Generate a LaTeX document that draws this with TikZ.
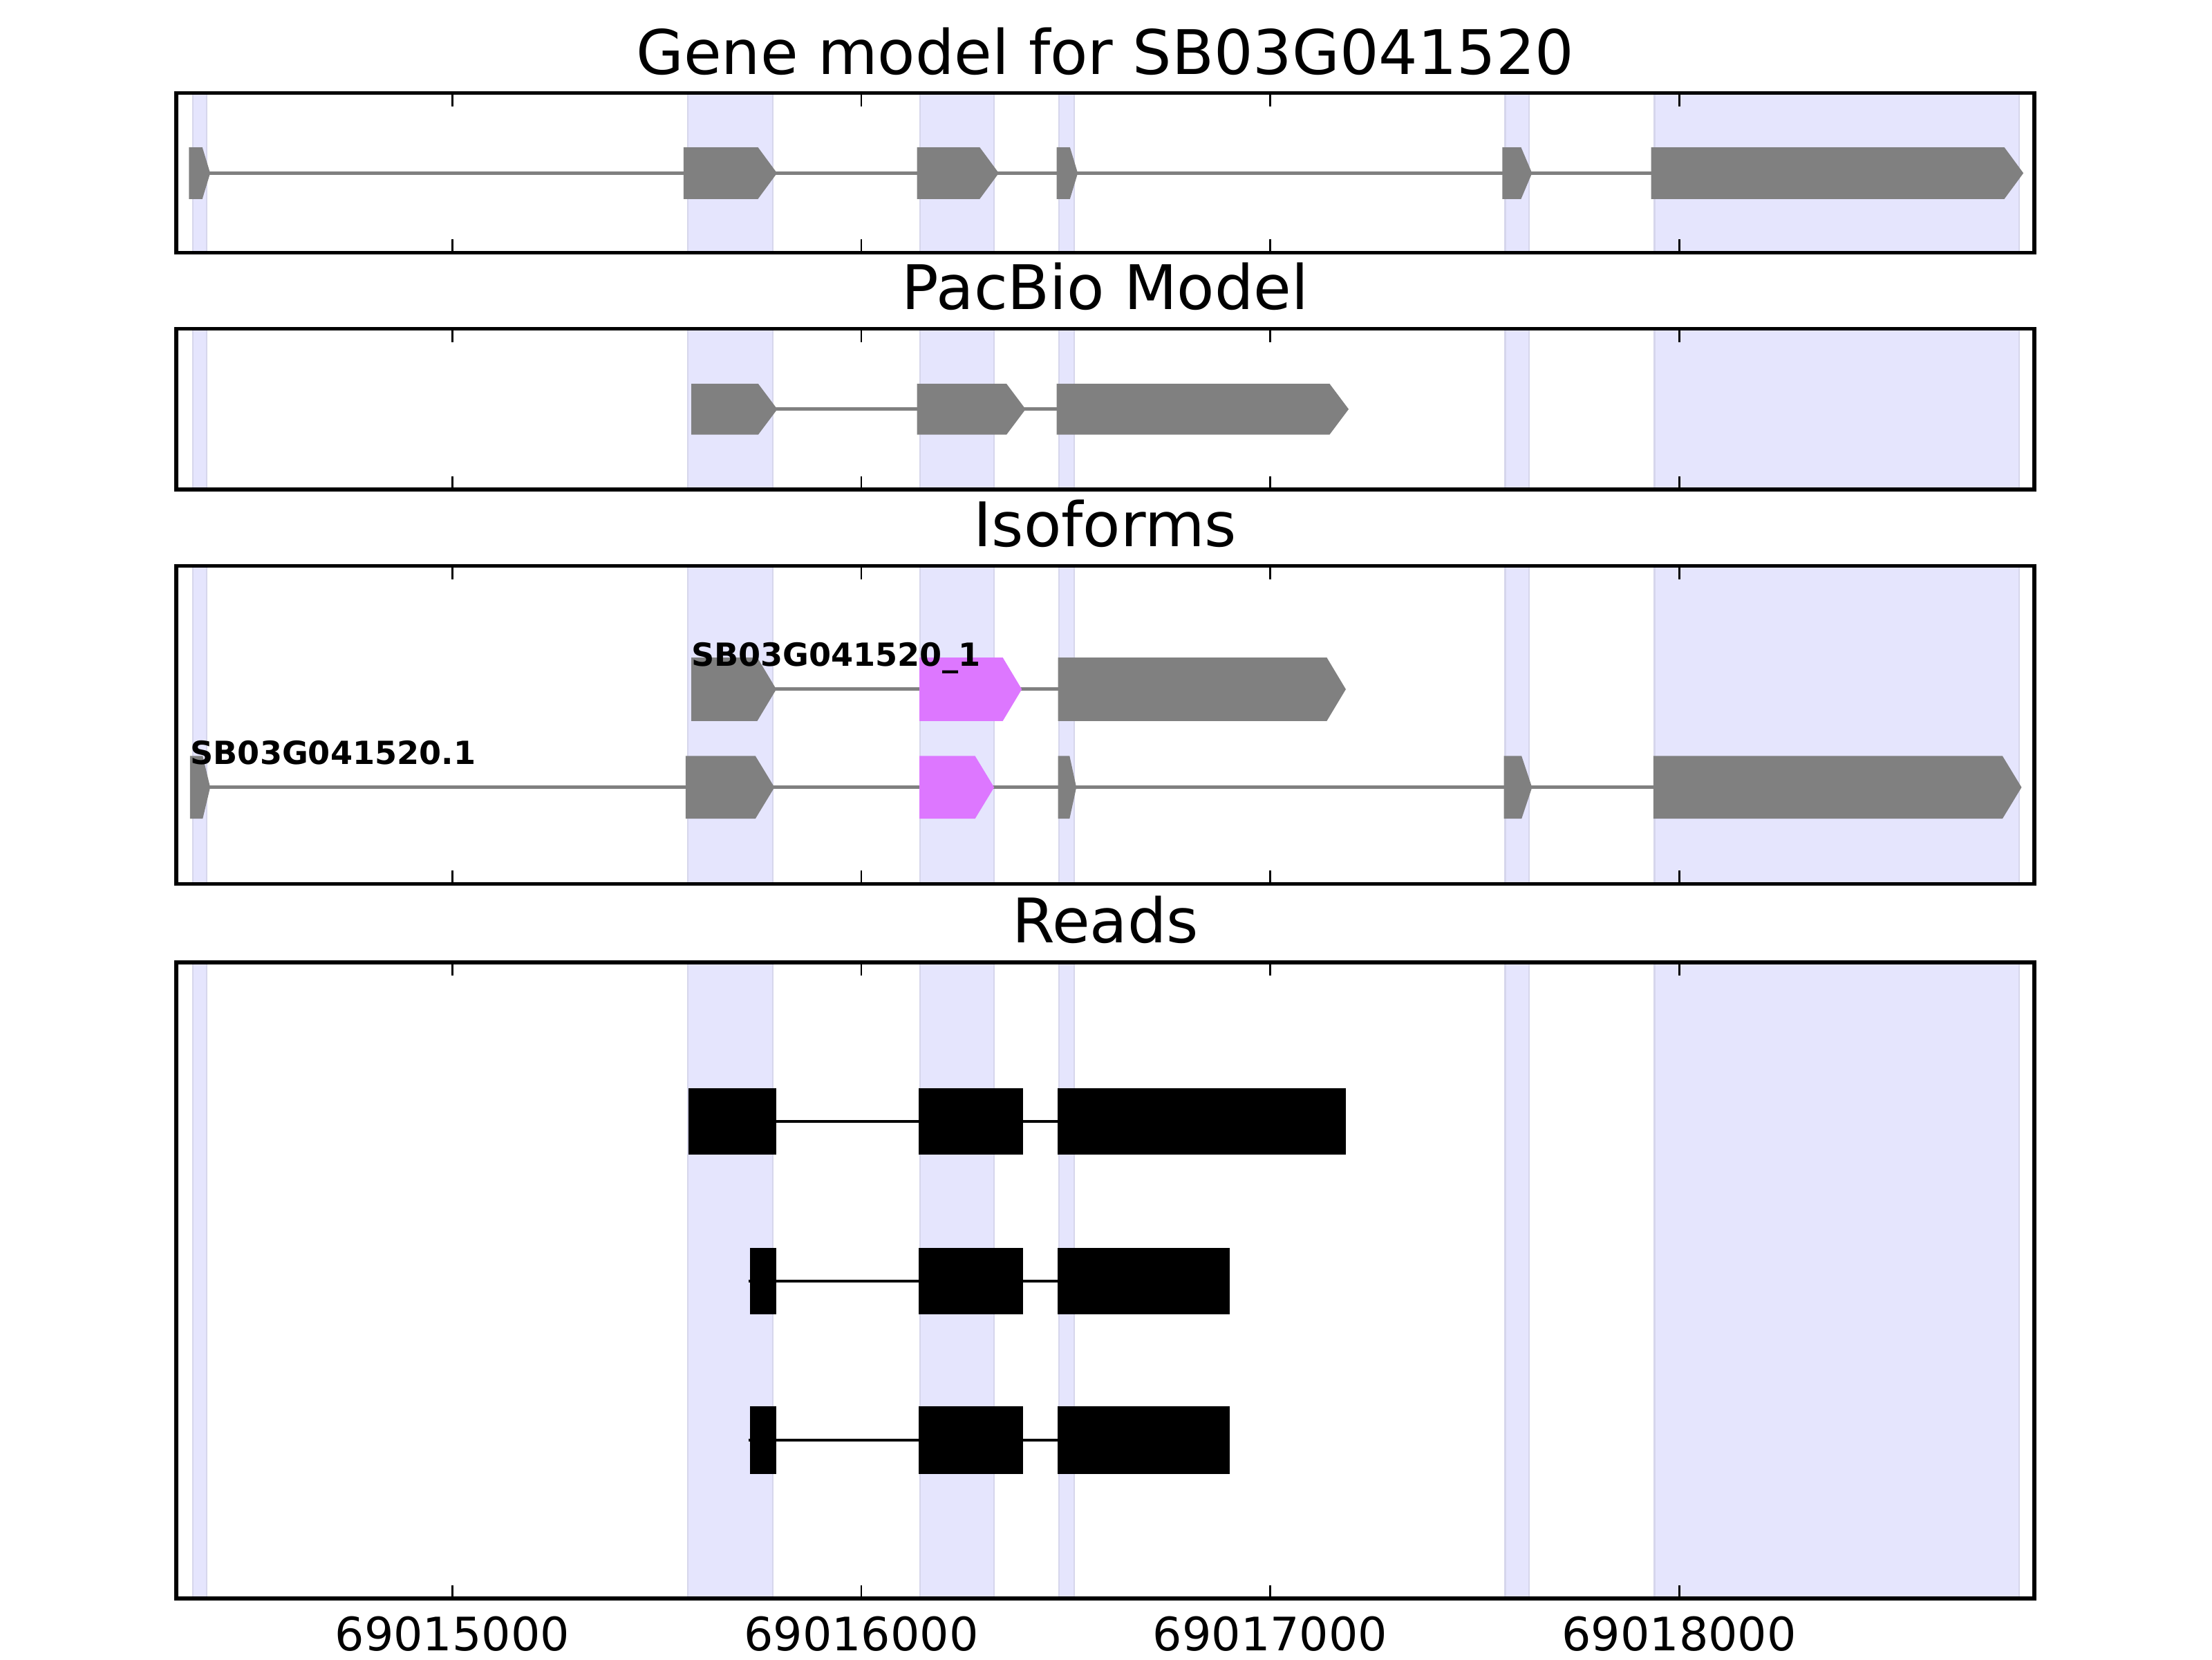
\documentclass[tikz,border=0pt]{standalone}
\usepackage{fontspec}
\setmainfont{DejaVu Sans}
\definecolor{exongray}{RGB}{128,128,128}
\definecolor{exonpink}{RGB}{221,119,255}
\definecolor{bandfill}{RGB}{229,229,253}
\definecolor{bandedge}{RGB}{214,214,236}
\tikzset{
  framebox/.style={draw=black, line width=1pt},
  tickline/.style={draw=black, line width=0.5pt},
  intron/.style={draw=exongray, line width=0.9pt},
  readintron/.style={draw=black, line width=0.8pt},
  readbox/.style={fill=black},
  titletext/.style={font=\fontsize{16}{19}\selectfont, anchor=base, inner sep=0pt},
  ticktext/.style={font=\fontsize{12}{14}\selectfont, anchor=base, inner sep=0pt},
  isolabel/.style={font=\fontsize{8.3}{10}\selectfont\bfseries, anchor=base west, inner sep=0pt},
}
\newcommand\panelbg[2]{%
  \foreach \a/\b in {136.7/146.5, 487.5/548, 652/704.5, 750.5/761.5, 1067/1084, 1172.8/1431.3}{%
    \fill[bandfill] (\a,#1) rectangle (\b,#2);
    \draw[bandedge, line width=0.4pt] (\a,#1) -- (\a,#2) (\b,#1) -- (\b,#2);
  }%
}
\newcommand\panelframe[2]{%
  \draw[framebox] (125,#1) rectangle (1442,#2);
  \foreach \t in {320.6,610.5,900.4,1190.3}{%
    \draw[tickline] (\t,#1) -- ++(0,9.5) (\t,#2) -- ++(0,-9.5);
  }%
}
% x1 x2 yc half colour
\newcommand\gexon[5]{%
  \pgfmathsetmacro\tipl{min(13.5,0.37*(#2-#1))}%
  \fill[#5] (#1,#3-#4) -- ({#2-\tipl},#3-#4) -- (#2,#3) -- ({#2-\tipl},#3+#4) -- (#1,#3+#4) -- cycle;%
}
\begin{document}
\begin{tikzpicture}[x=0.367347pt, y=-0.367347pt]
\useasboundingbox (0,0) rectangle (1568,1176);
\fill[white] (0,0) rectangle (1568,1176);

% ---------- Panel 1: gene model ----------
\panelbg{66}{179}
\draw[intron] (140,122.7) -- (1430,122.7);
\gexon{134}{149}{122.7}{18.3}{exongray}
\gexon{484.6}{550.8}{122.7}{18.3}{exongray}
\gexon{650}{708}{122.7}{18.3}{exongray}
\gexon{749}{764}{122.7}{18.3}{exongray}
\gexon{1065}{1086}{122.7}{18.3}{exongray}
\gexon{1170.4}{1434.3}{122.7}{18.3}{exongray}
\panelframe{66}{179}
\node[titletext] (t1) at (783.5,52.9) {Gene model for SB03G041520};

% ---------- Panel 2: PacBio ----------
\panelbg{233}{347}
\draw[intron] (495,290) -- (950,290);
\gexon{490}{551}{290}{18}{exongray}
\gexon{650}{727}{290}{18}{exongray}
\gexon{749}{956}{290}{18}{exongray}
\panelframe{233}{347}
\node[titletext] (t2) at (783.5,219.5) {PacBio Model};

% ---------- Panel 3: isoforms ----------
\panelbg{401}{626.5}
\draw[intron] (495,488.5) -- (950,488.5);
\gexon{490}{550.3}{488.5}{22.5}{exongray}
\gexon{651.8}{724.3}{488.5}{22.5}{exonpink}
\gexon{750}{954}{488.5}{22.5}{exongray}
\draw[intron] (140,558) -- (1430,558);
\gexon{134.7}{149}{558}{22.2}{exongray}
\gexon{486}{549}{558}{22.2}{exongray}
\gexon{651.8}{704.7}{558}{22.2}{exonpink}
\gexon{750}{763}{558}{22.2}{exongray}
\gexon{1066}{1086}{558}{22.2}{exongray}
\gexon{1172}{1433}{558}{22.2}{exongray}
\node[isolabel] (l1) at (489.5,472) {SB03G041520\_1};
\node[isolabel] (l2) at (134.5,541.5) {SB03G041520.1};
\panelframe{401}{626.5}
\node[titletext] (t3) at (783.5,387.5) {Isoforms};

% ---------- Panel 4: reads ----------
\panelbg{682}{1133}
\draw[readintron] (488.2,794.8) -- (954,794.8);
\fill[readbox] (488.2,771.1) rectangle (550.1,818.5);
\fill[readbox] (651.3,771.1) rectangle (725.3,818.5);
\fill[readbox] (749.7,771.1) rectangle (954,818.5);
\foreach \yt/\yb in {884.2/931.5, 996.6/1044.5}{%
  \draw[readintron] (530.5,{(\yt+\yb)/2}) -- (871.7,{(\yt+\yb)/2});
  \fill[readbox] (531.6,\yt) rectangle (550.1,\yb);
  \fill[readbox] (651.3,\yt) rectangle (725.3,\yb);
  \fill[readbox] (749.7,\yt) rectangle (871.7,\yb);
}
\panelframe{682}{1133}
\node[titletext] (t4) at (783.5,668) {Reads};

% ---------- x tick labels ----------
\node[ticktext] (x1) at (320.6,1170) {69015000};
\node[ticktext] (x2) at (610.5,1170) {69016000};
\node[ticktext] (x3) at (900.4,1170) {69017000};
\node[ticktext] (x4) at (1190.3,1170) {69018000};
\end{tikzpicture}
\end{document}
